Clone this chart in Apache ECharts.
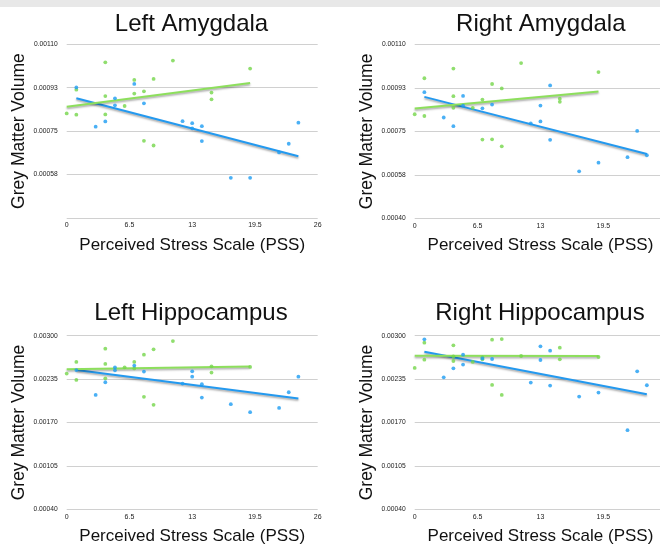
<!DOCTYPE html>
<html><head><meta charset="utf-8">
<script src="https://cdn.jsdelivr.net/npm/echarts@6/dist/echarts.min.js"></script>
<style>html,body{margin:0;padding:0;background:#fff}#c{width:660px;height:544px}</style>
</head><body><div id="c"></div>
<script>
// ---------- DATA ----------
const panelTitles = ['Left Amygdala', 'Right Amygdala', 'Left Hippocampus', 'Right Hippocampus'];
const xAxisName = 'Perceived Stress Scale (PSS)';
const yAxisName = 'Grey Matter Volume';
const xTickLabels = ['0', '6.5', '13', '19.5', '26'];
const amygTickLabels = ['0.00040', '0.00058', '0.00075', '0.00093', '0.00110'];
const hippoTickLabels = ['0.00040', '0.00105', '0.00170', '0.00235', '0.00300'];

const laGreen = [[0,0.000821],[1,0.000917],[1,0.000816],[4,0.001027],[4,0.000891],[4,0.000817],[6,0.000851],[7,0.000956],[7,0.000901],[8,0.000910],[8,0.000711],[9,0.000960],[9,0.000692],[11,0.001034],[15,0.000905],[15,0.000878],[19,0.001002]];
const laBlue = [[1,0.000926],[3,0.000768],[4,0.000789],[5,0.000882],[5,0.000854],[7,0.000940],[8,0.000862],[12,0.000790],[13,0.000782],[13,0.000761],[14,0.000770],[14,0.000710],[17,0.000562],[19,0.000562],[22,0.000664],[23,0.000699],[24,0.000784]];
const laGreenFit = [[0,0.000848],[19,0.000944]];
const laBlueFit = [[1,0.000882],[24,0.000649]];

const raGreen = [[0,0.000819],[1,0.000964],[1,0.000812],[4,0.001003],[4,0.000892],[4,0.000845],[6,0.000845],[7,0.000878],[7,0.000717],[8,0.000941],[8,0.000718],[9,0.000923],[9,0.000690],[11,0.001025],[15,0.000882],[15,0.000869],[19,0.000989]];
const raBlue = [[1,0.000908],[3,0.000806],[4,0.000771],[5,0.000893],[5,0.000854],[7,0.000843],[8,0.000858],[12,0.000782],[13,0.000854],[13,0.000790],[14,0.000935],[14,0.000716],[17,0.000589],[19,0.000624],[22,0.000646],[23,0.000752],[24,0.000654]];
const raGreenFit = [[0,0.000842],[19,0.000911]];
const raBlueFit = [[1,0.000889],[24,0.000659]];

const lhGreen = [[0,0.002432],[1,0.002607],[1,0.002338],[4,0.002806],[4,0.002577],[4,0.002362],[6,0.002527],[7,0.002607],[7,0.002510],[8,0.002716],[8,0.002084],[9,0.002796],[9,0.001964],[11,0.002920],[15,0.002542],[15,0.002447],[19,0.002532]];
const lhBlue = [[1,0.002485],[3,0.002113],[4,0.002303],[5,0.002527],[5,0.002482],[7,0.002552],[8,0.002462],[12,0.002283],[13,0.002467],[13,0.002387],[14,0.002273],[14,0.002074],[17,0.001974],[19,0.001854],[22,0.001919],[23,0.002153],[24,0.002387]];
const lhGreenFit = [[0,0.002497],[19,0.002537]];
const lhBlueFit = [[1,0.002487],[24,0.002059]];

const rhGreen = [[0,0.002517],[1,0.002895],[1,0.002641],[4,0.002856],[4,0.002621],[4,0.002690],[6,0.002607],[7,0.002676],[7,0.002646],[8,0.002940],[8,0.002263],[9,0.002950],[9,0.002113],[11,0.002696],[15,0.002821],[15,0.002646],[19,0.002681]];
const rhBlue = [[1,0.002945],[3,0.002377],[4,0.002512],[5,0.002716],[5,0.002567],[7,0.002660],[8,0.002651],[12,0.002298],[13,0.002841],[13,0.002636],[14,0.002776],[14,0.002253],[17,0.002088],[19,0.002148],[22,0.001585],[23,0.002467],[24,0.002258]];
const rhGreenFit = [[0,0.002701],[19,0.002696]];
const rhBlueFit = [[1,0.002761],[24,0.002123]];

// ---------- LAYOUT / STYLE ----------
const FONT = '"Liberation Sans", Arial, Helvetica, sans-serif';
const BLUE = '#1d9cf3';
const GREEN = '#74d64a';
const BLUE_LINE = '#2399ef';
const GREEN_LINE = '#8ddf5c';

const panels = [
  {title: panelTitles[0], green: laGreen, blue: laBlue, gFit: laGreenFit, bFit: laBlueFit, ticks: amygTickLabels, min: 0.0004, max: 0.0011, step: 0.000175, hideMin: true,
   grid: {left: 66.7, top: 44.2, width: 251, height: 173.8}, tx: 191.5, ty: 24},
  {title: panelTitles[1], green: raGreen, blue: raBlue, gFit: raGreenFit, bFit: raBlueFit, ticks: amygTickLabels, min: 0.0004, max: 0.0011, step: 0.000175, hideMin: false,
   grid: {left: 414.7, top: 44.5, width: 251.5, height: 173.8}, tx: 540.8, ty: 24},
  {title: panelTitles[2], green: lhGreen, blue: lhBlue, gFit: lhGreenFit, bFit: lhBlueFit, ticks: hippoTickLabels, min: 0.0004, max: 0.003, step: 0.00065, hideMin: false,
   grid: {left: 66.7, top: 335.7, width: 251, height: 173.6}, tx: 191, ty: 313},
  {title: panelTitles[3], green: rhGreen, blue: rhBlue, gFit: rhGreenFit, bFit: rhBlueFit, ticks: hippoTickLabels, min: 0.0004, max: 0.003, step: 0.00065, hideMin: false,
   grid: {left: 414.7, top: 335.7, width: 251.5, height: 173.6}, tx: 540, ty: 313}
];

const grids = [], xAxes = [], yAxes = [], series = [];
const graphics = [{type: 'rect', shape: {x: 0, y: 0, width: 660, height: 7}, style: {fill: '#e8e8e8'}, silent: true}];

panels.forEach((p, i) => {
  grids.push(Object.assign({outerBoundsMode: 'none'}, p.grid));
  xAxes.push({
    type: 'value', gridIndex: i, min: 0, max: 26, interval: 6.5,
    axisLine: {show: false}, axisTick: {show: false}, splitLine: {show: false},
    axisLabel: {margin: 4, fontSize: 7, color: '#222', fontFamily: FONT, hideOverlap: false,
      formatter: v => xTickLabels[Math.round(v / 6.5)] ?? ''},
    name: xAxisName, nameLocation: 'middle', nameGap: 19,
    nameTextStyle: {fontSize: 17, color: '#111', fontFamily: FONT}
  });
  const ticks = p.ticks, mn = p.min, st = p.step, hide = p.hideMin;
  yAxes.push({
    type: 'value', gridIndex: i, min: p.min, max: p.max, interval: p.step,
    axisLine: {show: false}, axisTick: {show: false},
    splitLine: {show: true, lineStyle: {color: '#d0d0d0', width: 1}},
    axisLabel: {margin: 9, fontSize: 6.7, color: '#222', fontFamily: FONT,
      formatter: v => { const k = Math.round((v - mn) / st); return (hide && k === 0) ? '' : (ticks[k] ?? ''); }},
    name: yAxisName, nameLocation: 'middle', nameGap: 39, nameRotate: 90,
    nameTextStyle: {fontSize: 17.5, color: '#111', fontFamily: FONT}
  });
  const lineStyleBase = {width: 2, shadowColor: 'rgba(0,0,0,0.35)', shadowBlur: 2, shadowOffsetY: 1.5};
  series.push({type: 'line', xAxisIndex: i, yAxisIndex: i, data: p.bFit, showSymbol: false, symbol: 'none', silent: true,
    lineStyle: Object.assign({color: BLUE_LINE}, lineStyleBase), z: 2});
  series.push({type: 'line', xAxisIndex: i, yAxisIndex: i, data: p.gFit, showSymbol: false, symbol: 'none', silent: true,
    lineStyle: Object.assign({color: GREEN_LINE}, lineStyleBase), z: 2});
  series.push({type: 'scatter', xAxisIndex: i, yAxisIndex: i, data: p.green, symbolSize: 3.8, itemStyle: {color: GREEN}, z: 3});
  series.push({type: 'scatter', xAxisIndex: i, yAxisIndex: i, data: p.blue, symbolSize: 3.8, itemStyle: {color: BLUE}, z: 3});
  graphics.push({type: 'text', x: p.tx, y: p.ty, style: {text: p.title, fontSize: 24, fontFamily: FONT, fill: '#111', align: 'center', verticalAlign: 'middle'}});
});

const chart = echarts.init(document.getElementById('c'), null, {renderer: 'canvas', width: 660, height: 544});
chart.setOption({
  animation: false,
  backgroundColor: '#fff',
  grid: grids, xAxis: xAxes, yAxis: yAxes, series: series, graphic: graphics
});
</script></body></html>
